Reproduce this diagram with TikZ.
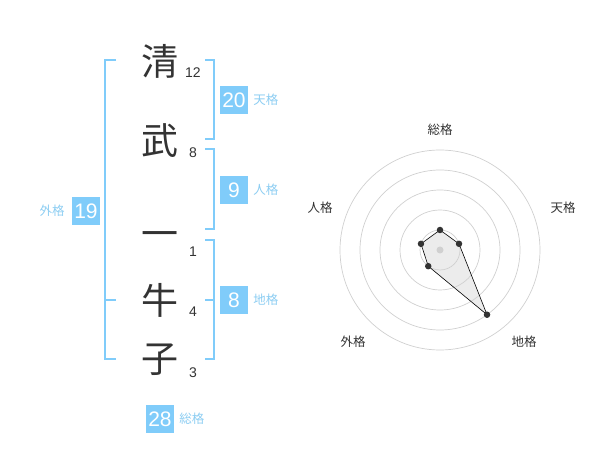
\documentclass[tikz,border=0pt]{standalone}
\usepackage{fontspec}
\setmainfont{Liberation Sans}
\newfontfamily\cjk{Noto Sans CJK JP}
\definecolor{skyblue}{RGB}{128,204,250}
\definecolor{labelblue}{RGB}{140,205,242}
\definecolor{inkgray}{RGB}{51,51,51}
\definecolor{ringgray}{RGB}{208,208,208}
\definecolor{fillgray}{RGB}{236,236,236}
\usetikzlibrary{positioning}

\begin{document}
\begin{tikzpicture}[x=1pt,y=-1pt,
  kanji/.style={font=\cjk\fontsize{37}{37}\selectfont,text=inkgray,inner sep=0pt},
  strokes/.style={font=\fontsize{14}{14}\selectfont,text=inkgray,inner sep=0pt},
  score/.style={fill=skyblue,text=white,minimum size=28pt,inner sep=0pt,
                font=\fontsize{21}{21}\selectfont},
  kaku/.style={font=\cjk\fontsize{12.5}{12.5}\selectfont,text=labelblue,inner sep=0pt},
  brk/.style={draw=skyblue,line width=2pt},
  axis/.style={font=\cjk\fontsize{12.5}{12.5}\selectfont,text=inkgray,inner sep=0pt},
  ring/.style={draw=ringgray,line width=0.7pt},
  dot/.style={circle,fill=inkgray,inner sep=0pt,minimum size=6.5pt}
]
  \useasboundingbox (0,0) rectangle (600,470);
  % Name characters
  \node[kanji] (k1) at (160,61)  {清};
  \node[kanji] (k2) at (160,141) {武};
  \node[kanji] (k3) at (160,240) {一};
  \node[kanji] (k4) at (160,300) {牛};
  \node[kanji] (k5) at (160,360) {子};
  % Stroke counts
  \node[strokes] (n1) at (193,73)  {12};
  \node[strokes] (n2) at (193,153) {8};
  \node[strokes] (n3) at (193,252) {1};
  \node[strokes] (n4) at (193,312) {4};
  \node[strokes] (n5) at (193,373) {3};
  % Brackets
  \draw[brk] (116,60) -- (105,60) -- (105,359) -- (116,359);
  \draw[brk] (105,300) -- (116,300);
  \draw[brk] (205,60) -- (214,60) -- (214,139) -- (205,139);
  \draw[brk] (205,149) -- (214,149) -- (214,229) -- (205,229);
  \draw[brk] (205,240) -- (214,240) -- (214,359) -- (205,359);
  \draw[brk] (214,300) -- (205,300);
  % Scores
  \node[score] (ten) at (234,100) {20};
  \node[kaku, right=5pt of ten] (tenL) {天格};
  \node[score] (jin) at (234,190) {9};
  \node[kaku, right=5pt of jin] (jinL) {人格};
  \node[score] (chi) at (234,300) {8};
  \node[kaku, right=5pt of chi] (chiL) {地格};
  \node[score] (gai) at (86,211) {19};
  \node[kaku, left=7pt of gai] (gaiL) {外格};
  \node[score] (so) at (160,419) {28};
  \node[kaku, right=5pt of so] (soL) {総格};
  % Radar chart
  \begin{scope}[shift={(440,250)},yscale=-1]
    \coordinate (pSo)  at (90:20);
    \coordinate (pTen) at (18:20);
    \coordinate (pChi) at (-54:80);
    \coordinate (pGai) at (-126:20);
    \coordinate (pJin) at (162:20);
    \fill[fillgray] (pSo) -- (pTen) -- (pChi) -- (pGai) -- (pJin) -- cycle;
    \foreach \r in {20,40,...,100}
      \draw[ring] (0,0) circle[radius=\r pt];
    \fill[ringgray] (0,0) circle[radius=3.5pt];
    \draw[black,line width=0.6pt] (pSo) -- (pTen) -- (pChi) -- (pGai) -- (pJin) -- cycle;
    \foreach \p in {pSo,pTen,pChi,pGai,pJin}
      \node[dot] at (\p) {};
    \node[axis] (aSo)  at (0,120)    {総格};
    \node[axis] (aTen) at (123,42)   {天格};
    \node[axis] (aChi) at (84,-92)   {地格};
    \node[axis] (aGai) at (-87,-92)  {外格};
    \node[axis] (aJin) at (-120,42)  {人格};
  \end{scope}
\end{tikzpicture}
\end{document}
